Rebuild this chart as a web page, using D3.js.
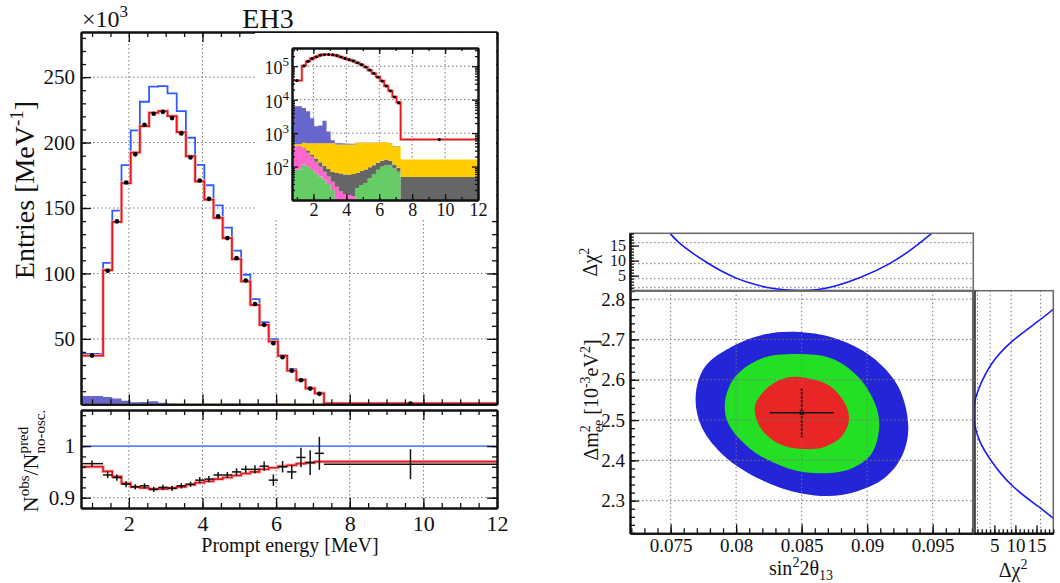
<!DOCTYPE html>
<html>
<head>
<meta charset="utf-8">
<script src="https://cdn.jsdelivr.net/npm/d3@7"></script>
<style>
  body { margin: 0; background: #fff; }
  svg { font-family: "Liberation Serif", "DejaVu Serif", serif; }
  .grid { stroke: #777; stroke-width: 1; stroke-dasharray: 1.5 2.5; fill: none; }
  .axis path, .axis line { stroke: #111; }
  .axis path { stroke-width: 2; }
  .axis line { stroke-width: 1.3; }
</style>
</head>
<body>
<svg id="chart" width="1060" height="583"></svg>
<script>
// energy bins [MeV]
const binEdges = [0.7, 1.3, 1.55, 1.8, 2.05, 2.3, 2.55, 2.8, 3.05, 3.3, 3.55, 3.8, 4.05, 4.3, 4.55, 4.8,
  5.05, 5.3, 5.55, 5.8, 6.05, 6.3, 6.55, 6.8, 7.05, 7.3, 12];

// entries per MeV, x10^3
const predOsc = [37.2, 102.6, 139.4, 169.0, 192.4, 212.6, 222.8, 224.0, 220.2, 208.0, 189.6, 170.4, 156.4,
  142.4, 127.0, 111.0, 94.0, 76.0, 60.7, 48.0, 37.0, 25.7, 18.6, 12.2, 8.4, 0.64];
const predNoOsc = [38.5, 108.0, 148.0, 182.7, 209.3, 231.2, 242.7, 243.2, 237.6, 224.0, 203.7, 183.0, 167.4,
  152.0, 135.0, 117.4, 99.0, 80.4, 62.8, 49.8, 37.7, 26.8, 19.3, 12.7, 8.7, 0.665];
const observed = [37.2, 102.0, 139.8, 169.5, 191.0, 213.6, 222.0, 223.5, 218.7, 207.0, 188.6, 171.0, 157.0,
  143.6, 127.0, 111.7, 94.6, 76.6, 60.7, 46.7, 36.0, 25.7, 18.4, 12.0, 8.0, 0.64];

// backgrounds, entries per MeV (stacked bottom to top)
const bkgAlphaN = [81, 115, 100, 85, 65, 50, 40, 30, 20, 8, 8, 8, 8, 8, 23, 28, 32, 45, 60, 80, 100, 110, 110, 90, 70, 1];
const bkgAmC = [324, 245, 160, 115, 75, 50, 30, 20, 15, 17, 10, 7, 6, 5, 0, 0, 0, 0, 0, 0, 0, 0, 0, 0, 0, 0];
const bkgFastN = [3, 10, 40, 30, 35, 35, 35, 35, 35, 39, 44, 43, 44, 47, 41, 47, 49, 50, 50, 49, 50, 52, 40, 25, 21, 48];
const bkgLiHe = [55, 146, 200, 270, 325, 365, 395, 415, 430, 396, 398, 402, 402, 400, 452, 441, 435, 421, 406, 387, 390, 378, 350, 290, 314, 114];
const bkgAccidental = [5840, 5084, 4000, 2300, 1100, 1200, 1850, 620, 110, 40, 40, 30, 20, 20, 10, 5, 5, 5, 5, 5, 5, 5, 5, 5, 5, 0];

// ratio to no-oscillation prediction
const ratioObs = [0.966, 0.944, 0.939, 0.926, 0.921, 0.923, 0.916, 0.920, 0.918, 0.923, 0.926, 0.934, 0.936,
  0.944, 0.944, 0.950, 0.955, 0.955, 0.961, 0.934, 0.960, 0.950, 0.978, 0.968, 0.986, 0.965];
const ratioErr = [0.006, 0.006, 0.006, 0.006, 0.005, 0.005, 0.005, 0.005, 0.005, 0.005, 0.005, 0.006, 0.006,
  0.006, 0.006, 0.007, 0.007, 0.008, 0.009, 0.011, 0.011, 0.014, 0.019, 0.024, 0.032, 0.029];
const ratioFit = [0.960, 0.951, 0.941, 0.928, 0.921, 0.919, 0.917, 0.917, 0.919, 0.921, 0.925, 0.929, 0.932,
  0.936, 0.939, 0.943, 0.947, 0.950, 0.955, 0.958, 0.961, 0.963, 0.966, 0.968, 0.970, 0.970];

// tick labels
const energyTicks = [2, 4, 6, 8, 10, 12];
const entryTicks = [50, 100, 150, 200, 250];
const ratioTicks = [0.9, 1];
const insetDecades = [100, 1000, 10000, 100000];
const sinTicks = [0.075, 0.08, 0.085, 0.09, 0.095];
const dmTicks = [2.3, 2.4, 2.5, 2.6, 2.7, 2.8];
const chiTicks = [5, 10, 15];
const chiLevels = [1, 4, 9, 16];

// allowed regions (sin^2 2theta13, dm2_ee [1e-3 eV^2])
const region3sigma = [[0.08449, 2.719], [0.08754, 2.703], [0.09034, 2.657], [0.09237, 2.583], [0.09314, 2.483],
  [0.09263, 2.409], [0.09111, 2.351], [0.08805, 2.314], [0.085, 2.318], [0.08195, 2.351], [0.07915, 2.409],
  [0.07737, 2.483], [0.07691, 2.558], [0.07762, 2.632], [0.07991, 2.686], [0.0822, 2.713]];
const region2sigma = [[0.08449, 2.664], [0.08729, 2.653], [0.08932, 2.607], [0.0906, 2.541], [0.09092, 2.483],
  [0.09034, 2.417], [0.08882, 2.380], [0.08653, 2.368], [0.08398, 2.380], [0.08118, 2.426], [0.0794, 2.492],
  [0.07915, 2.545], [0.07991, 2.607], [0.08195, 2.653]];
const region1sigma = [[0.08474, 2.607], [0.08703, 2.587], [0.08831, 2.541], [0.08861, 2.500], [0.08805, 2.459],
  [0.08678, 2.434], [0.08525, 2.428], [0.08321, 2.442], [0.08182, 2.483], [0.08143, 2.533], [0.0822, 2.574],
  [0.08347, 2.601]];
const bestFit = [0.085, 2.518];
const bestFitSinErr = [0.08257, 0.08746];
const bestFitDmErr = [2.457, 2.579];

// delta chi2 profiles
const chiVsSin = [[0.07495, 19.1], [0.07558, 16], [0.0767, 12.4], [0.07787, 9], [0.07895, 6.3], [0.08004, 4],
  [0.0812, 2.3], [0.08233, 1], [0.0837, 0.25], [0.085, 0], [0.0863, 0.3], [0.08741, 1.2], [0.08945, 4.1],
  [0.09187, 9.1], [0.09352, 14.1], [0.09492, 19.1]];
const chiVsDm = [[2.256, 19], [2.282, 16], [2.334, 9], [2.40, 4], [2.45, 1.2], [2.49, 0.2], [2.518, 0],
  [2.545, 0.25], [2.573, 1], [2.641, 4], [2.697, 9], [2.749, 16], [2.775, 19]];

const svg = d3.select("#chart");
const defs = svg.append("defs");

function clipRect(id, x0, y0, x1, y1) {
  defs.append("clipPath").attr("id", id).append("rect")
    .attr("x", x0).attr("y", y0).attr("width", x1 - x0).attr("height", y1 - y0);
  return `url(#${id})`;
}

function addAxis(g, side, scale, pos, values, len, fmt, fontSize, pad) {
  const maker = { bottom: d3.axisBottom, top: d3.axisTop, left: d3.axisLeft, right: d3.axisRight }[side];
  const ax = maker(scale).tickValues(values).tickSize(-len).tickSizeOuter(0)
    .tickPadding(pad || 4).tickFormat(fmt || (() => ""));
  const tr = (side === "bottom" || side === "top") ? `translate(0,${pos})` : `translate(${pos},0)`;
  const a = g.append("g").attr("class", "axis").attr("transform", tr).call(ax);
  a.attr("font-family", null).attr("font-size", fontSize || 20);
  a.selectAll("text").attr("fill", "#111");
  return a;
}

function gridX(g, x, vals, y0, y1) {
  g.selectAll(null).data(vals).enter().append("line").attr("class", "grid")
    .attr("x1", d => x(d)).attr("x2", d => x(d)).attr("y1", y0).attr("y2", y1);
}
function gridY(g, y, vals, x0, x1) {
  g.selectAll(null).data(vals).enter().append("line").attr("class", "grid")
    .attr("y1", d => y(d)).attr("y2", d => y(d)).attr("x1", x0).attr("x2", x1);
}

const stepData = vals => binEdges.map((e, i) => [e, vals[Math.min(i, vals.length - 1)]]);
const binCenters = binEdges.slice(0, -1).map((e, i) => (e + binEdges[i + 1]) / 2);

const bkgKeys = ["alphaN", "amC", "fastN", "liHe", "accidental"];
const bkgColors = { alphaN: "#66cc66", amC: "#ff66cc", fastN: "#666666", liHe: "#ffcc00", accidental: "#6666cc" };
const bkgRows = predOsc.map((_, i) => ({
  alphaN: bkgAlphaN[i], amC: bkgAmC[i], fastN: bkgFastN[i], liHe: bkgLiHe[i], accidental: bkgAccidental[i]
}));
const bkgStack = d3.stack().keys(bkgKeys)(bkgRows);

// ================= main spectrum =================
const xMain = d3.scaleLinear().domain([0.7, 12]).range([81, 497]);
const yMain = d3.scaleLinear().domain([0, 284.5]).range([404.3, 32]);
const gMain = svg.append("g");
gridX(gMain, xMain, energyTicks.slice(0, -1), 32, 404.3);
gridY(gMain, yMain, entryTicks, 81, 497);

const plotMain = gMain.append("g").attr("clip-path", clipRect("clipMain", 81, 32, 497, 404.3));
bkgStack.forEach(s => {
  plotMain.append("path")
    .datum(binEdges.map((e, i) => [e, s[Math.min(i, s.length - 1)]]))
    .attr("fill", bkgColors[s.key])
    .attr("d", d3.area().curve(d3.curveStepAfter)
      .x(d => xMain(d[0])).y0(d => yMain(d[1][0] / 1000)).y1(d => yMain(d[1][1] / 1000)));
});
const lineMain = d3.line().curve(d3.curveStepAfter).x(d => xMain(d[0])).y(d => yMain(d[1]));
plotMain.append("path").datum(stepData(predNoOsc)).attr("d", lineMain)
  .attr("fill", "none").attr("stroke", "#2f5bff").attr("stroke-width", 1.8);
plotMain.append("path").datum(stepData(predOsc)).attr("d", lineMain)
  .attr("fill", "none").attr("stroke", "#f4b4b4").attr("stroke-width", 3.4);
plotMain.append("path").datum(stepData(predOsc)).attr("d", lineMain)
  .attr("fill", "none").attr("stroke", "#e0181b").attr("stroke-width", 1.7);
plotMain.selectAll("circle.obs").data(observed).enter().append("circle")
  .attr("cx", (d, i) => xMain(binCenters[i])).attr("cy", d => yMain(d)).attr("r", 2.3).attr("fill", "#000");

// ================= inset (log) =================
const xIn = d3.scaleLinear().domain([0.7, 12]).range([292, 478]);
const yIn = d3.scaleLog().domain([10, 3.5e5]).range([200, 48]).clamp(true);
const gIn = svg.append("g");
gIn.append("rect").attr("x", 255).attr("y", 33).attr("width", 241).attr("height", 185).attr("fill", "#fff");
gridX(gIn, xIn, energyTicks.slice(0, -1), 48, 200);
gridY(gIn, yIn, insetDecades, 292, 478);
const plotIn = gIn.append("g").attr("clip-path", clipRect("clipIn", 292, 48, 478, 200));
bkgStack.forEach(s => {
  plotIn.append("path")
    .datum(binEdges.map((e, i) => [e, s[Math.min(i, s.length - 1)]]))
    .attr("fill", bkgColors[s.key])
    .attr("d", d3.area().curve(d3.curveStepAfter)
      .x(d => xIn(d[0])).y0(d => yIn(Math.max(d[1][0], 1))).y1(d => yIn(Math.max(d[1][1], 1))));
});
const lineIn = d3.line().curve(d3.curveStepAfter).x(d => xIn(d[0])).y(d => yIn(d[1] * 1000));
plotIn.append("path").datum(stepData(predOsc)).attr("d", lineIn)
  .attr("fill", "none").attr("stroke", "#f4b4b4").attr("stroke-width", 3);
plotIn.append("path").datum(stepData(predOsc)).attr("d", lineIn)
  .attr("fill", "none").attr("stroke", "#e0181b").attr("stroke-width", 1.5);
plotIn.selectAll("circle").data(observed).enter().append("circle")
  .attr("cx", (d, i) => xIn(binCenters[i])).attr("cy", d => yIn(d * 1000)).attr("r", 1.6).attr("fill", "#000");

const inMinorY = yIn.ticks().filter(v => insetDecades.indexOf(v) < 0);
addAxis(gIn, "bottom", xIn, 200, energyTicks, 6, d => d, 18, 3);
addAxis(gIn, "bottom", xIn, 200, d3.range(1, 12, 1), 3);
addAxis(gIn, "top", xIn, 48, energyTicks, 6);
addAxis(gIn, "top", xIn, 48, d3.range(1, 12, 1), 3);
addAxis(gIn, "left", yIn, 292, insetDecades, 6);
addAxis(gIn, "left", yIn, 292, inMinorY, 3);
addAxis(gIn, "right", yIn, 478, insetDecades, 6);
addAxis(gIn, "right", yIn, 478, inMinorY, 3);
gIn.selectAll(".axis path").attr("stroke-width", 1.5);
insetDecades.forEach(v => {
  const t = gIn.append("text").attr("x", 289).attr("y", yIn(v) + 8).attr("text-anchor", "end")
    .attr("font-size", 18).attr("fill", "#111");
  t.append("tspan").text("10");
  t.append("tspan").attr("dy", -8).attr("font-size", 13).text(Math.round(Math.log10(v)));
});

// main frame
addAxis(gMain, "left", yMain, 81, entryTicks, 10, d => d, 21, 6);
addAxis(gMain, "left", yMain, 81, d3.range(10, 281, 10), 5);
addAxis(gMain, "right", yMain, 497, entryTicks, 10);
addAxis(gMain, "right", yMain, 497, d3.range(10, 281, 10), 5);
addAxis(gMain, "bottom", xMain, 404.3, energyTicks, 10);
addAxis(gMain, "bottom", xMain, 404.3, d3.range(1, 12, 0.5), 5);
addAxis(gMain, "top", xMain, 32, energyTicks, 10);
addAxis(gMain, "top", xMain, 32, d3.range(1, 12, 0.5), 5);

const times = svg.append("text").attr("x", 82).attr("y", 27).attr("font-size", 24).attr("fill", "#111");
times.append("tspan").text("\u00d710");
times.append("tspan").attr("dy", -10).attr("font-size", 17).text("3");
svg.append("text").attr("x", 268).attr("y", 28).attr("text-anchor", "middle")
  .attr("font-size", 28).attr("fill", "#111").text("EH3");
const yLab = svg.append("text").attr("transform", "translate(34,190) rotate(-90)")
  .attr("text-anchor", "middle").attr("font-size", 28).attr("fill", "#111");
yLab.append("tspan").text("Entries [MeV");
yLab.append("tspan").attr("dy", -11).attr("font-size", 19).text("-1");
yLab.append("tspan").attr("dy", 11).text("]");

// ================= ratio panel =================
const yRatio = d3.scaleLinear().domain([0.88, 1.07]).range([508, 410]);
const gRat = svg.append("g");
gridX(gRat, xMain, energyTicks.slice(0, -1), 410, 508);
gridY(gRat, yRatio, [0.9], 81, 497);
const plotRat = gRat.append("g").attr("clip-path", clipRect("clipRat", 81, 410, 497, 508));
plotRat.append("line").attr("x1", 81).attr("x2", 497).attr("y1", yRatio(1)).attr("y2", yRatio(1))
  .attr("stroke", "#6080ff").attr("stroke-width", 1.6);
const lineRat = d3.line().curve(d3.curveStepAfter).x(d => xMain(d[0])).y(d => yRatio(d[1]));
plotRat.append("path").datum(stepData(ratioFit)).attr("d", lineRat)
  .attr("fill", "none").attr("stroke", "#f4b4b4").attr("stroke-width", 3.4);
plotRat.append("path").datum(stepData(ratioFit)).attr("d", lineRat)
  .attr("fill", "none").attr("stroke", "#e8141a").attr("stroke-width", 1.6);
const crosses = plotRat.selectAll("g.pt").data(ratioObs).enter().append("g")
  .attr("stroke", "#111").attr("stroke-width", 1.5);
crosses.append("line")
  .attr("x1", (d, i) => xMain(binEdges[i])).attr("x2", (d, i) => xMain(binEdges[i + 1]))
  .attr("y1", d => yRatio(d)).attr("y2", d => yRatio(d));
crosses.append("line")
  .attr("x1", (d, i) => xMain(binCenters[i])).attr("x2", (d, i) => xMain(binCenters[i]))
  .attr("y1", (d, i) => yRatio(d - ratioErr[i])).attr("y2", (d, i) => yRatio(d + ratioErr[i]));

addAxis(gRat, "left", yRatio, 81, ratioTicks, 10, d => d, 21, 6);
addAxis(gRat, "left", yRatio, 81, d3.range(0.88, 1.071, 0.02), 5);
addAxis(gRat, "right", yRatio, 497, ratioTicks, 10);
addAxis(gRat, "right", yRatio, 497, d3.range(0.88, 1.071, 0.02), 5);
addAxis(gRat, "bottom", xMain, 508, energyTicks, 10, d => d, 22, 7);
addAxis(gRat, "bottom", xMain, 508, d3.range(1, 12, 0.5), 5);
addAxis(gRat, "top", xMain, 410, energyTicks, 10);
addAxis(gRat, "top", xMain, 410, d3.range(1, 12, 0.5), 5);

svg.append("text").attr("x", 290).attr("y", 552).attr("text-anchor", "middle")
  .attr("font-size", 20).attr("fill", "#111").text("Prompt energy [MeV]");

const rLab = svg.append("text").attr("transform", "translate(38,461) rotate(-90)")
  .attr("text-anchor", "middle").attr("font-size", 22).attr("fill", "#111");
rLab.append("tspan").text("N");
rLab.append("tspan").attr("dy", -9).attr("font-size", 15).text("obs");
rLab.append("tspan").attr("dy", 9).text("/N");
const predSpan = rLab.append("tspan").attr("dy", -10).attr("font-size", 15).text("pred");
const noOscSpan = rLab.append("tspan").attr("dy", 17).attr("font-size", 15).text("no-osc.");
noOscSpan.attr("dx", -predSpan.node().getComputedTextLength());

// ================= sin2 / dm2 contour =================
const xS = d3.scaleLinear().domain([0.0719, 0.0981]).range([630, 973.3]);
const yM = d3.scaleLinear().domain([2.219, 2.821]).range([533.3, 290.7]);
const yChiTop = d3.scaleLinear().domain([0, 19.1]).range([290.7, 233.3]);
const xChiRight = d3.scaleLinear().domain([0, 19]).range([973.3, 1053.3]);

const gC = svg.append("g");
const plotC = gC.append("g").attr("clip-path", clipRect("clipC", 630, 290.7, 973.3, 533.3));
const closed = d3.line().curve(d3.curveCatmullRomClosed.alpha(0.5)).x(d => xS(d[0])).y(d => yM(d[1]));
plotC.append("path").attr("d", closed(region3sigma)).attr("fill", "#2424d8");
plotC.append("path").attr("d", closed(region2sigma)).attr("fill", "#24e024");
plotC.append("path").attr("d", closed(region1sigma)).attr("fill", "#e82626");
gridX(gC, xS, sinTicks, 290.7, 533.3);
gridY(gC, yM, dmTicks, 630, 973.3);
plotC.append("line").attr("x1", xS(bestFitSinErr[0])).attr("x2", xS(bestFitSinErr[1]))
  .attr("y1", yM(bestFit[1])).attr("y2", yM(bestFit[1])).attr("stroke", "#111").attr("stroke-width", 1.5);
plotC.append("line").attr("x1", xS(bestFit[0])).attr("x2", xS(bestFit[0]))
  .attr("y1", yM(bestFitDmErr[0])).attr("y2", yM(bestFitDmErr[1])).attr("stroke", "#111").attr("stroke-width", 1.5);
plotC.append("rect").attr("x", xS(bestFit[0]) - 2).attr("y", yM(bestFit[1]) - 2)
  .attr("width", 4).attr("height", 4).attr("fill", "#111");

addAxis(gC, "left", yM, 630, dmTicks, 9, d => d, 19, 5);
addAxis(gC, "left", yM, 630, d3.range(2.22, 2.821, 0.02), 5);
addAxis(gC, "bottom", xS, 533.3, sinTicks, 9, d => d, 19, 5);
addAxis(gC, "bottom", xS, 533.3, d3.range(0.072, 0.0981, 0.001), 5);
gC.append("line").attr("x1", 973.3).attr("x2", 973.3).attr("y1", 290.7).attr("y2", 533.3)
  .attr("stroke", "#222").attr("stroke-width", 2);
gC.append("line").attr("x1", 630).attr("x2", 973.3).attr("y1", 290.7).attr("y2", 290.7)
  .attr("stroke", "#555").attr("stroke-width", 2);

// top delta chi2
const gT = svg.append("g");
gridY(gT, yChiTop, chiLevels, 630, 973.3);
gT.append("g").attr("clip-path", clipRect("clipT", 630, 233.3, 973.3, 290.7))
  .append("path").datum(chiVsSin)
  .attr("d", d3.line().curve(d3.curveBasis).x(d => xS(d[0])).y(d => yChiTop(d[1])))
  .attr("fill", "none").attr("stroke", "#1a1aff").attr("stroke-width", 1.6);
gT.append("rect").attr("x", 630).attr("y", 233.3).attr("width", 343.3).attr("height", 57.4)
  .attr("fill", "none").attr("stroke", "#666").attr("stroke-width", 1.5);
addAxis(gT, "left", yChiTop, 630, chiTicks, 9, d => d, 16, 4);
addAxis(gT, "left", yChiTop, 630, d3.range(1, 19.1, 1), 4);

// right delta chi2
const gR = svg.append("g");
gridX(gR, xChiRight, chiLevels, 290.7, 533.3);
gR.append("g").attr("clip-path", clipRect("clipR", 973.3, 290.7, 1053.3, 533.3))
  .append("path").datum(chiVsDm)
  .attr("d", d3.line().curve(d3.curveBasis).x(d => xChiRight(d[1])).y(d => yM(d[0])))
  .attr("fill", "none").attr("stroke", "#1a1aff").attr("stroke-width", 1.6);
gR.append("rect").attr("x", 973.3).attr("y", 290.7).attr("width", 80).attr("height", 242.6)
  .attr("fill", "none").attr("stroke", "#666").attr("stroke-width", 1.5);
addAxis(gR, "bottom", xChiRight, 533.3, chiTicks, 8, d => d, 19, 5);
addAxis(gR, "bottom", xChiRight, 533.3, d3.range(1, 19.1, 1), 4);
gR.append("line").attr("x1", 975).attr("x2", 975).attr("y1", 290.7).attr("y2", 533.3)
  .attr("stroke", "#222").attr("stroke-width", 1.5);

// right-side labels
const sinLab = svg.append("text").attr("x", 801).attr("y", 575).attr("text-anchor", "middle")
  .attr("font-size", 20).attr("fill", "#111");
sinLab.append("tspan").text("sin");
sinLab.append("tspan").attr("dy", -8).attr("font-size", 14).text("2");
sinLab.append("tspan").attr("dy", 8).text("2\u03b8");
sinLab.append("tspan").attr("dy", 5).attr("font-size", 14).text("13");

const chiLab = svg.append("text").attr("x", 1013).attr("y", 577).attr("text-anchor", "middle")
  .attr("font-size", 20).attr("fill", "#111");
chiLab.append("tspan").text("\u0394\u03c7");
chiLab.append("tspan").attr("dy", -8).attr("font-size", 14).text("2");

const chiTopLab = svg.append("text").attr("transform", "translate(597,262) rotate(-90)")
  .attr("text-anchor", "middle").attr("font-size", 20).attr("fill", "#111");
chiTopLab.append("tspan").text("\u0394\u03c7");
chiTopLab.append("tspan").attr("dy", -8).attr("font-size", 14).text("2");

const dmLab = svg.append("text").attr("transform", "translate(598,400) rotate(-90)")
  .attr("text-anchor", "middle").attr("font-size", 20).attr("fill", "#111");
dmLab.append("tspan").text("\u0394m");
const sq = dmLab.append("tspan").attr("dy", -8).attr("font-size", 14).text("2");
dmLab.append("tspan").attr("dy", 13).attr("font-size", 14).attr("dx", -sq.node().getComputedTextLength()).text("ee");
dmLab.append("tspan").attr("dy", -5).text(" [10");
dmLab.append("tspan").attr("dy", -8).attr("font-size", 14).text("-3");
dmLab.append("tspan").attr("dy", 8).text("eV");
dmLab.append("tspan").attr("dy", -8).attr("font-size", 14).text("2");
dmLab.append("tspan").attr("dy", 8).text("]");
</script>
</body>
</html>
